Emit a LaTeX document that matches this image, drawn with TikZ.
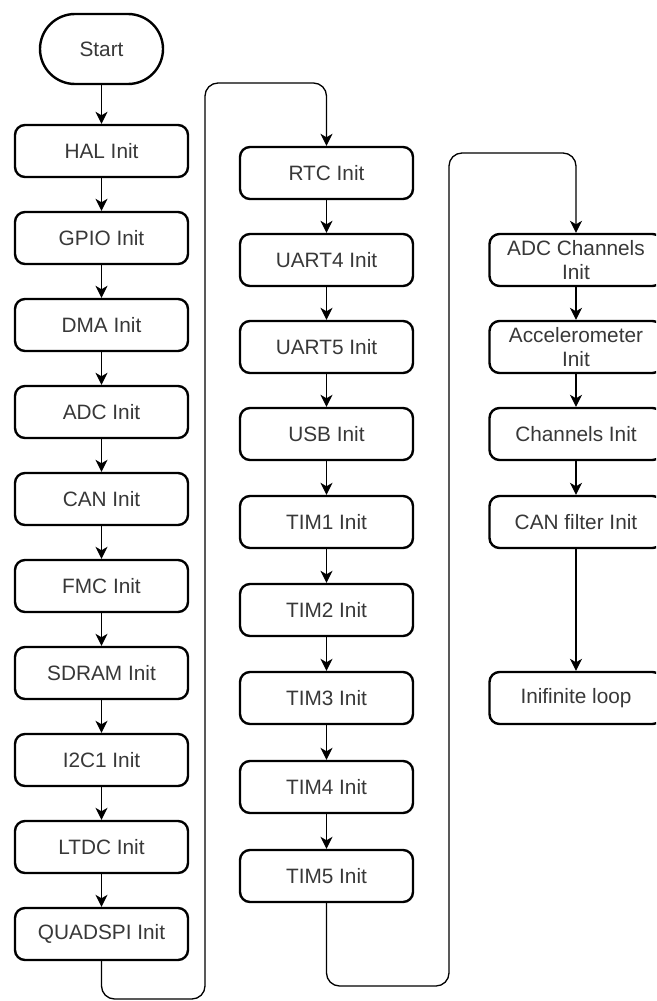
\documentclass[tikz,border=0pt]{standalone}
\usepackage{fontspec}
\setmainfont{Liberation Sans}
\usetikzlibrary{arrows.meta,shapes.misc}
\definecolor{txt}{HTML}{383838}
\begin{document}
\begin{tikzpicture}[x=1pt,y=-1pt,
  box/.style={draw=black, line width=2.4pt, rounded corners=10pt, minimum width=173pt, minimum height=52pt, inner sep=0pt, align=center, text=txt, font=\fontsize{20.8}{23.5}\selectfont},
  term/.style={draw=black, line width=2.4pt, rounded rectangle, minimum width=123pt, minimum height=70pt, inner sep=0pt, text=txt, font=\fontsize{20.8}{23.5}\selectfont},
  conn/.style={draw=black, line width=1.3pt, -{Stealth[length=12pt,width=12pt,inset=3.5pt]}},
]
\clip (0,0) rectangle (656,1001);
\fill[white] (0,0) rectangle (656,1001);

% column 1
\node[term] (start) at (101.5,49) {Start};
\node[box] (hal)   at (101.5,151) {HAL Init};
\node[box] (gpio)  at (101.5,238) {GPIO Init};
\node[box] (dma)   at (101.5,325) {DMA Init};
\node[box] (adc)   at (101.5,412) {ADC Init};
\node[box] (can)   at (101.5,499) {CAN Init};
\node[box] (fmc)   at (101.5,586) {FMC Init};
\node[box] (sdram) at (101.5,673) {SDRAM Init};
\node[box] (iic)   at (101.5,760) {I2C1 Init};
\node[box] (ltdc)  at (101.5,847) {LTDC Init};
\node[box] (qspi)  at (101.5,934) {QUADSPI Init};

% column 2
\node[box] (rtc)   at (326.5,173) {RTC Init};
\node[box] (uart4) at (326.5,260) {UART4 Init};
\node[box] (uart5) at (326.5,347) {UART5 Init};
\node[box] (usb)   at (326.5,434) {USB Init};
\node[box] (tim1)  at (326.5,522) {TIM1 Init};
\node[box] (tim2)  at (326.5,610) {TIM2 Init};
\node[box] (tim3)  at (326.5,698) {TIM3 Init};
\node[box] (tim4)  at (326.5,787) {TIM4 Init};
\node[box] (tim5)  at (326.5,876) {TIM5 Init};

% column 3
\node[box] (adcch) at (576,260) {ADC Channels\\Init};
\node[box] (accel) at (576,347) {Accelerometer\\Init};
\node[box] (chan)  at (576,434) {Channels Init};
\node[box] (canf)  at (576,522) {CAN filter Init};
\node[box] (inf)   at (576,698) {Inifinite loop};

% straight connectors
\foreach \a/\b in {start/hal,hal/gpio,gpio/dma,dma/adc,adc/can,can/fmc,fmc/sdram,sdram/iic,iic/ltdc,ltdc/qspi,
  rtc/uart4,uart4/uart5,uart5/usb,usb/tim1,tim1/tim2,tim2/tim3,tim3/tim4,tim4/tim5,
  adcch/accel,accel/chan,chan/canf,canf/inf}
  \draw[conn] (\a.south) -- (\b.north);

% loop connectors
\coordinate (p1) at (101.5,999);
\coordinate (p2) at (205,999);
\coordinate (p3) at (205,83);
\coordinate (p4) at (326.5,83);
\draw[conn, rounded corners=13pt] (qspi.south) -- (p1) -- (p2) -- (p3) -- (p4) -- (rtc.north);

\coordinate (q1) at (326.5,986);
\coordinate (q2) at (449,986);
\coordinate (q3) at (449,153);
\coordinate (q4) at (576,153);
\draw[conn, rounded corners=13pt] (tim5.south) -- (q1) -- (q2) -- (q3) -- (q4) -- (adcch.north);
\end{tikzpicture}
\end{document}
